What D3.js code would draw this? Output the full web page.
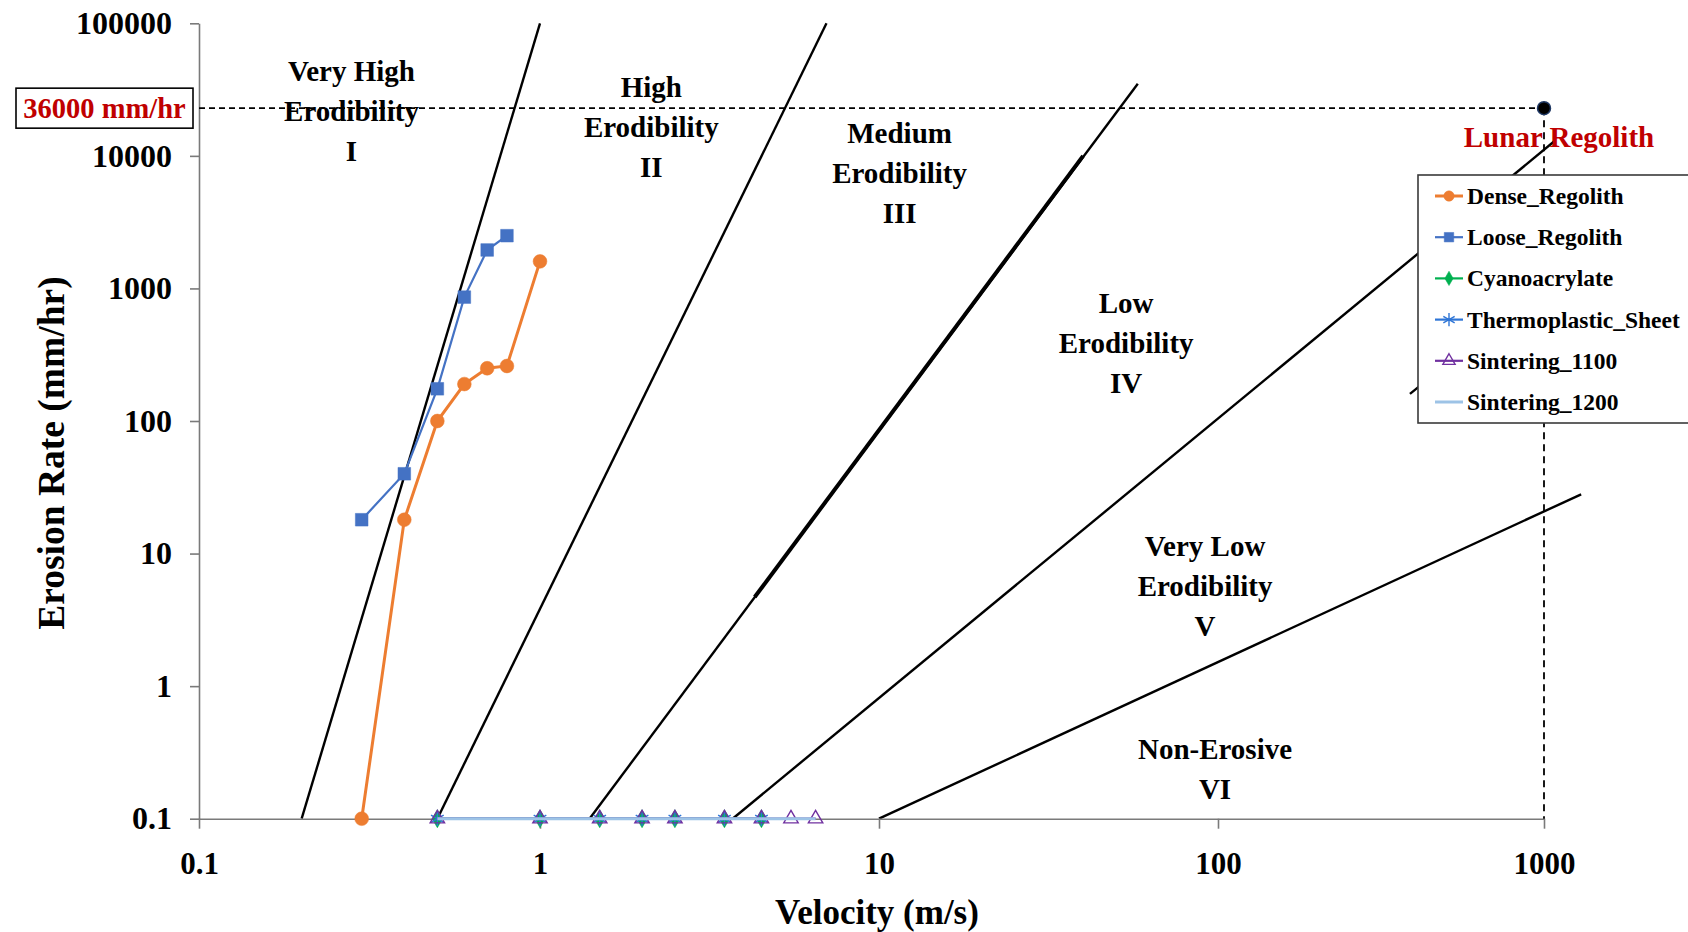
<!DOCTYPE html>
<html>
<head>
<meta charset="utf-8">
<script src="https://cdn.jsdelivr.net/npm/d3@7"></script>
<style>
  body { margin: 0; background: #fff; }
  svg text { font-family: "Liberation Serif", "Times New Roman", serif; font-weight: bold; fill: #000; }
</style>
</head>
<body>
<svg width="1688" height="932"></svg>
<script>
// ticks
let velocityTicks = [0.1, 1, 10, 100, 1000];
let rateTicks = [0.1, 1, 10, 100, 1000, 10000, 100000];

// measured series: velocity (m/s) and erosion rate (mm/hr)
let denseVelocity = [0.3, 0.4, 0.5, 0.6, 0.7, 0.8, 1.0];
let denseRate = [0.1, 18, 100, 190, 250, 260, 1600];
let looseVelocity = [0.3, 0.4, 0.5, 0.6, 0.7, 0.8];
let looseRate = [18, 40, 175, 860, 1950, 2500];
let cyanoVelocity = [0.5, 1, 1.5, 2, 2.5, 3.5, 4.5];
let cyanoRate = [0.1, 0.1, 0.1, 0.1, 0.1, 0.1, 0.1];
let thermoVelocity = [0.5, 1, 1.5, 2, 2.5, 3.5, 4.5];
let thermoRate = [0.1, 0.1, 0.1, 0.1, 0.1, 0.1, 0.1];
let sinter1100Velocity = [0.5, 1, 1.5, 2, 2.5, 3.5, 4.5, 5.5, 6.5];
let sinter1100Rate = [0.1, 0.1, 0.1, 0.1, 0.1, 0.1, 0.1, 0.1, 0.1];
let sinter1200Velocity = [0.5, 1, 1.5, 2, 2.5, 3.5, 4.5, 5.5, 6.5];
let sinter1200Rate = [0.1, 0.1, 0.1, 0.1, 0.1, 0.1, 0.1, 0.1, 0.1];

// erodibility category boundaries (straight in log-log)
let boundaryFromVelocity = [0.2, 0.5, 1.4, 3.7, 388, 10];
let boundaryFromRate = [0.1, 0.1, 0.1, 0.1, 160, 0.1];
let boundaryToVelocity = [1, 7, 58, 1080, 1000, 1300];
let boundaryToRate = [100000, 100000, 35000, 13000, 1050, 28];
// doubled stretch of the medium boundary
let overlapVelocity = [4.3, 40];
let overlapRate = [4.7, 10000];

// category names, anchored at (velocity, rate) of the first line
let regionNames = [
  ["Very High", "Erodibility", "I"],
  ["High", "Erodibility", "II"],
  ["Medium", "Erodibility", "III"],
  ["Low", "Erodibility", "IV"],
  ["Very Low", "Erodibility", "V"],
  ["Non-Erosive", "VI"]
];
let regionVelocity = [0.28, 2.13, 11.5, 53.6, 91.6, 98];
let regionRate = [36600, 28000, 12400, 650, 9.6, 0.28];

// lunar regolith reference point
let lunarVelocity = 1000;
let lunarRate = 22900;
let lunarText = "36000 mm/hr";

let svg = d3.select("svg");

let x = d3.scaleLog().domain(velocityTicks).range([199, 540, 879, 1218, 1544]);
let y = d3.scaleLog().domain([0.1, 100000]).range([818.7, 23.3]);

// category boundary lines
let bounds = boundaryFromVelocity.map((v, i) => [[v, boundaryFromRate[i]], [boundaryToVelocity[i], boundaryToRate[i]]]);
svg.append("g").selectAll("line")
  .data(bounds)
  .enter().append("line")
    .attr("x1", d => x(d[0][0]))
    .attr("y1", d => y(d[0][1]))
    .attr("x2", d => x(d[1][0]))
    .attr("y2", d => y(d[1][1]))
    .attr("stroke", "#000")
    .attr("stroke-width", 2.4);
svg.append("line")
  .attr("x1", x(overlapVelocity[0])).attr("y1", y(overlapRate[0]))
  .attr("x2", x(overlapVelocity[1])).attr("y2", y(overlapRate[1]))
  .attr("stroke", "#000")
  .attr("stroke-width", 4);

// category labels
let lineGap = 40;
let regions = svg.append("g").selectAll("text")
  .data(regionNames)
  .enter().append("text")
    .attr("text-anchor", "middle")
    .attr("font-size", 29)
    .attr("x", (d, i) => x(regionVelocity[i]))
    .attr("y", (d, i) => y(regionRate[i]));
regions.selectAll("tspan")
  .data(d => d)
  .enter().append("tspan")
    .attr("x", function () { return this.parentNode.getAttribute("x"); })
    .attr("dy", (d, i) => i === 0 ? 0 : lineGap)
    .text(d => d);

// axes
let yAxis = svg.append("g")
  .attr("transform", "translate(" + x(0.1) + ",0)")
  .call(d3.axisLeft(y).tickValues(rateTicks).tickFormat(d => String(d)).tickSize(9).tickSizeOuter(0).tickPadding(18));
let xAxis = svg.append("g")
  .attr("transform", "translate(0," + y(0.1) + ")")
  .call(d3.axisBottom(x).tickValues(velocityTicks).tickFormat(d => String(d)).tickSize(10).tickSizeOuter(0).tickPadding(23));
[xAxis, yAxis].forEach(g => {
  g.selectAll("path, line").attr("stroke", "#7a7a7a").attr("stroke-width", 1.6);
  g.selectAll("text").attr("font-family", null);
});
yAxis.selectAll("text").attr("font-size", 32);
xAxis.selectAll("text").attr("font-size", 31);

svg.append("text")
  .attr("x", 877).attr("y", 924)
  .attr("text-anchor", "middle")
  .attr("font-size", 35)
  .text("Velocity (m/s)");
svg.append("text")
  .attr("transform", "translate(64," + 453 + ") rotate(-90)")
  .attr("text-anchor", "middle")
  .attr("font-size", 37.5)
  .text("Erosion Rate (mm/hr)");

// lunar regolith marker with dashed guides
let lx = x(lunarVelocity), ly = y(lunarRate);
svg.append("line")
  .attr("x1", x(0.1)).attr("y1", ly).attr("x2", lx).attr("y2", ly)
  .attr("stroke", "#000").attr("stroke-width", 1.8).attr("stroke-dasharray", "6,4");
svg.append("line")
  .attr("x1", lx).attr("y1", ly).attr("x2", lx).attr("y2", y(0.1))
  .attr("stroke", "#000").attr("stroke-width", 1.8).attr("stroke-dasharray", "7,5");
svg.append("circle")
  .attr("cx", lx).attr("cy", ly).attr("r", 6.5)
  .attr("fill", "#000").attr("stroke", "#1f3864").attr("stroke-width", 1.5);
svg.append("text")
  .attr("x", lx + 15).attr("y", ly + 39)
  .attr("text-anchor", "middle")
  .attr("font-size", 29)
  .style("fill", "#c00000")
  .text("Lunar Regolith");
svg.append("rect")
  .attr("x", 16).attr("y", ly - 20).attr("width", 177).attr("height", 40)
  .attr("fill", "#fff").attr("stroke", "#000").attr("stroke-width", 1.6);
svg.append("text")
  .attr("x", 104.5).attr("y", ly + 10)
  .attr("text-anchor", "middle")
  .attr("font-size", 28.5)
  .style("fill", "#c00000")
  .text(lunarText);

// data series
let series = [
  { name: "Dense_Regolith", v: denseVelocity, r: denseRate, color: "#ED7D31", width: 3, symbol: d3.symbolCircle, size: 150, legendSize: 85, fill: true },
  { name: "Loose_Regolith", v: looseVelocity, r: looseRate, color: "#4472C4", width: 2.2, symbol: d3.symbolSquare, size: 160, legendSize: 90, fill: true },
  { name: "Cyanoacrylate", v: cyanoVelocity, r: cyanoRate, color: "#00B050", width: 2.2, symbol: d3.symbolDiamond, size: 95, legendSize: 60, fill: true },
  { name: "Thermoplastic_Sheet", v: thermoVelocity, r: thermoRate, color: "#2E75D6", width: 2.2, symbol: d3.symbolAsterisk, size: 150, legendSize: 120, fill: false },
  { name: "Sintering_1100", v: sinter1100Velocity, r: sinter1100Rate, color: "#7030A0", width: 2.2, symbol: d3.symbolTriangle, size: 90, legendSize: 65, fill: false },
  { name: "Sintering_1200", v: sinter1200Velocity, r: sinter1200Rate, color: "#9DC3E6", width: 3, symbol: null }
];

let line = d3.line().x(d => x(d[0])).y(d => y(d[1]));

function markers(g, s, pts, size) {
  if (!s.symbol) return;
  g.selectAll("path.mark")
    .data(pts)
    .enter().append("path")
      .classed("mark", true)
      .attr("transform", d => "translate(" + d[0] + "," + d[1] + ")")
      .attr("d", d3.symbol().type(s.symbol).size(size)())
      .attr("fill", s.fill ? s.color : "none")
      .attr("stroke", s.color)
      .attr("stroke-width", s.fill ? 0.5 : 1.4);
}

series.forEach(s => {
  let pts = s.v.map((v, i) => [v, s.r[i]]);
  let g = svg.append("g").classed("series", true);
  g.append("path")
    .attr("d", line(pts))
    .attr("fill", "none")
    .attr("stroke", s.color)
    .attr("stroke-width", s.width);
  markers(g, s, pts.map(p => [x(p[0]), y(p[1])]), s.size);
});

// legend
let legend = svg.append("g");
legend.append("rect")
  .attr("x", 1418).attr("y", 175).attr("width", 300).attr("height", 248)
  .attr("fill", "#fff").attr("stroke", "#3a3a3a").attr("stroke-width", 1.6);
let items = legend.selectAll(".item")
  .data(series)
  .enter().append("g")
    .classed("item", true)
    .attr("transform", (d, i) => "translate(0," + (196 + i * 41.2) + ")");
items.append("line")
  .attr("x1", 1435).attr("x2", 1463)
  .attr("stroke", d => d.color)
  .attr("stroke-width", d => d.width);
items.each(function (d) {
  markers(d3.select(this), d, [[1449, 0]], d.legendSize);
});
items.append("text")
  .attr("x", 1467).attr("y", 8)
  .attr("font-size", 23.5)
  .text(d => d.name);
</script>
</body>
</html>
